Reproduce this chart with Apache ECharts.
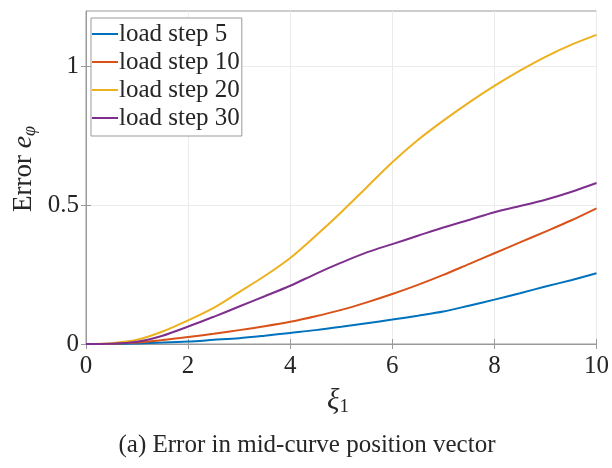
<!DOCTYPE html>
<html>
<head>
<meta charset="utf-8">
<script src="https://cdn.jsdelivr.net/npm/echarts@6/dist/echarts.min.js"></script>
<style>
  html, body { margin: 0; padding: 0; background: #fff; }
  #chart { width: 612px; height: 468px; }
</style>
</head>
<body>
<div id="chart"></div>
<script>
// Position along the mid-curve
const xi = [0, 0.5, 1, 1.5, 2, 2.5, 3, 3.5, 4, 4.5, 5, 5.5, 6, 6.5, 7, 7.5, 8, 8.5, 9, 9.5, 10];

// Error e_phi for each load step
const step5  = [0, 0, 0.002, 0.005, 0.009, 0.015, 0.021, 0.030, 0.040, 0.050, 0.062, 0.075, 0.088, 0.102, 0.117, 0.138, 0.160, 0.183, 0.207, 0.230, 0.255];
const step10 = [0, 0.001, 0.005, 0.014, 0.025, 0.037, 0.050, 0.064, 0.080, 0.100, 0.123, 0.150, 0.180, 0.213, 0.249, 0.288, 0.327, 0.366, 0.405, 0.445, 0.489];
const step20 = [0, 0.003, 0.015, 0.045, 0.085, 0.130, 0.187, 0.245, 0.310, 0.390, 0.475, 0.565, 0.655, 0.735, 0.805, 0.870, 0.930, 0.985, 1.035, 1.078, 1.114];
const step30 = [0, 0.001, 0.008, 0.030, 0.063, 0.098, 0.135, 0.172, 0.210, 0.253, 0.293, 0.330, 0.360, 0.390, 0.420, 0.447, 0.475, 0.497, 0.520, 0.548, 0.580];

const seriesNames = ['load step 5', 'load step 10', 'load step 20', 'load step 30'];
const seriesValues = [step5, step10, step20, step30];
const colors = ['#0072BD', '#D95319', '#EDB120', '#7E2F8E'];

const xTicks = [0, 2, 4, 6, 8, 10];
const yTicks = [0, 0.5, 1];

const serif = '"Liberation Serif", "DejaVu Serif", serif';
const textColor = '#262626';
const axisColor = '#9a9a9a';

const pair = v => xi.map((x, i) => [x, v[i]]);

const chart = echarts.init(document.getElementById('chart'), null, { renderer: 'canvas' });

const gridLine = { show: true, lineStyle: { color: '#ebebeb', width: 1 } };
const innerTick = { show: true, inside: true, length: 5, lineStyle: { color: axisColor } };

chart.setOption({
  animation: false,
  backgroundColor: '#ffffff',
  color: colors,
  grid: { left: 86, right: 15, top: 11, bottom: 124, show: true, borderColor: axisColor, borderWidth: 1 },
  legend: {
    orient: 'vertical',
    left: 91,
    top: 18,
    itemWidth: 26,
    itemHeight: 2,
    itemGap: 0,
    icon: 'rect',
    padding: [2, 2, 4, 1],
    backgroundColor: '#ffffff',
    borderColor: axisColor,
    borderWidth: 1,
    textStyle: { fontFamily: serif, fontSize: 25, color: textColor, lineHeight: 28, padding: [0, 0, 0, -4] },
    data: seriesNames
  },
  xAxis: [{
    type: 'value', min: 0, max: 10, interval: 2,
    axisLine: { show: true, onZero: false, lineStyle: { color: axisColor } },
    axisTick: Object.assign({ customValues: xTicks }, innerTick),
    axisLabel: {
      fontFamily: serif, fontSize: 25, color: textColor, margin: 10,
      customValues: xTicks
    },
    splitLine: gridLine
  }, {
    type: 'value', min: 0, max: 10, interval: 2, position: 'top',
    axisLine: { show: false },
    axisTick: Object.assign({ customValues: xTicks }, innerTick),
    axisLabel: { show: false },
    splitLine: { show: false }
  }],
  yAxis: [{
    type: 'value', min: 0, max: 1.2, interval: 0.5,
    axisLine: { show: true, onZero: false, lineStyle: { color: axisColor } },
    axisTick: Object.assign({ customValues: yTicks }, innerTick),
    axisLabel: {
      fontFamily: serif, fontSize: 25, color: textColor, margin: 7,
      customValues: yTicks
    },
    splitLine: gridLine
  }, {
    type: 'value', min: 0, max: 1.2, interval: 0.5, position: 'right',
    axisLine: { show: false },
    axisTick: Object.assign({ customValues: yTicks }, innerTick),
    axisLabel: { show: false },
    splitLine: { show: false }
  }],
  series: seriesNames.map((name, i) => ({
    name: name,
    type: 'line',
    data: pair(seriesValues[i]),
    smooth: 0.3,
    showSymbol: false,
    symbol: 'none',
    lineStyle: { width: 2, color: colors[i] },
    itemStyle: { color: colors[i] },
    z: 3
  })),
  graphic: [{
    // y-axis title: Error e_phi
    type: 'text',
    x: 24,
    y: 169,
    rotation: Math.PI / 2,
    style: {
      text: '{t|Error }{v|e}{s|φ}',
      align: 'center',
      verticalAlign: 'middle',
      rich: {
        t: { fontFamily: serif, fontSize: 27, fill: textColor },
        v: { fontFamily: serif, fontSize: 28, fontStyle: 'italic', fill: textColor },
        s: { fontFamily: serif, fontSize: 18, fontStyle: 'italic', fill: textColor, padding: [12, 0, 0, 0] }
      }
    }
  }, {
    // x-axis title: xi_1
    type: 'text',
    x: 338,
    y: 401,
    style: {
      text: '{v|ξ}{s|1}',
      align: 'center',
      verticalAlign: 'middle',
      rich: {
        v: { fontFamily: serif, fontSize: 29, fontStyle: 'italic', fill: textColor },
        s: { fontFamily: serif, fontSize: 19, fill: textColor, padding: [12, 0, 0, 0] }
      }
    }
  }, {
    type: 'text',
    x: 307,
    y: 445,
    style: {
      text: '(a) Error in mid-curve position vector',
      align: 'center',
      verticalAlign: 'middle',
      fontFamily: serif,
      fontSize: 25,
      fill: textColor
    }
  }]
});
</script>
</body>
</html>
